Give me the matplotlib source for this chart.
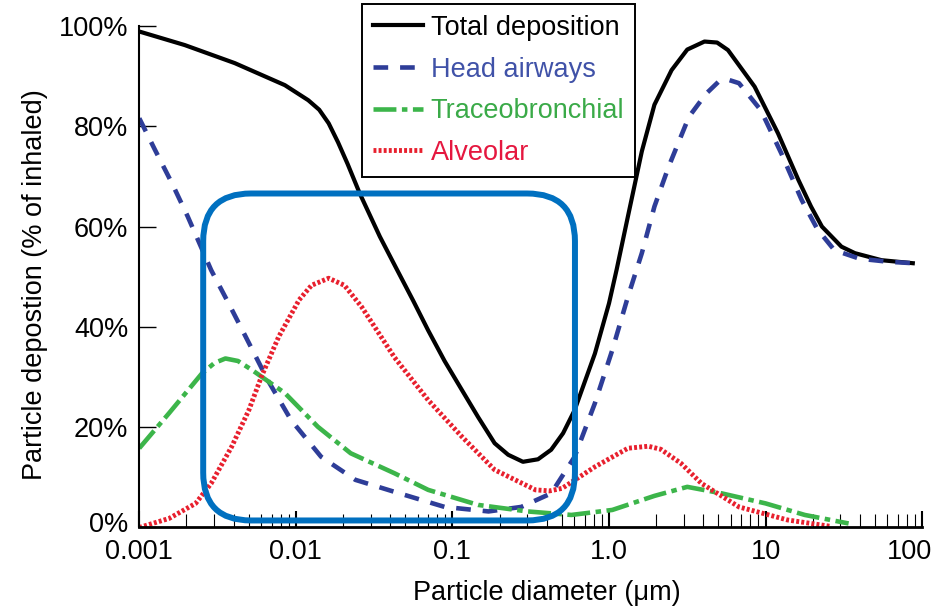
import numpy as np
import matplotlib
matplotlib.use('Agg')
import matplotlib.pyplot as plt
from matplotlib.patches import FancyBboxPatch
from matplotlib.ticker import FixedLocator, LogLocator, NullFormatter
from matplotlib.transforms import ScaledTranslation

plt.rcParams['font.family'] = ['Liberation Sans', 'DejaVu Sans']

# values (diameter in um, deposition in %)
total_d = [0.001, 0.00195, 0.00407, 0.00851, 0.0120, 0.0141, 0.0162, 0.0186, 0.0214, 0.0256,
           0.0344, 0.0441, 0.0562, 0.0700, 0.0891, 0.115, 0.146, 0.186, 0.227, 0.282,
           0.352, 0.427, 0.509, 0.603, 0.813, 1.0, 1.12, 1.32, 1.62, 1.95,
           2.51, 3.16, 4.07, 4.90, 5.75, 8.51, 12.0, 16.2, 19.5, 22.9,
           30.5, 37.2, 55.0, 87.1]
total_y = [98.9, 96.2, 92.6, 88.2, 85.2, 83.3, 80.6, 76.8, 72.5, 66.6,
           58.0, 51.5, 45.2, 39.3, 33.2, 27.4, 22.0, 16.8, 14.5, 13.1,
           13.6, 15.5, 18.8, 23.4, 34.7, 44.7, 51.5, 62.0, 75.0, 84.3,
           91.2, 95.3, 96.9, 96.7, 95.2, 87.9, 78.6, 69.3, 64.0, 60.0,
           56.0, 54.7, 53.3, 52.7]

head_d = [0.001, 0.00126, 0.00162, 0.00204, 0.00288, 0.00372, 0.00479, 0.00661, 0.00933, 0.0145,
          0.0240, 0.0427, 0.0891, 0.170, 0.275, 0.427, 0.603, 0.813, 1.05, 1.32,
          1.62, 1.95, 2.40, 3.24, 4.17, 5.01, 5.75, 6.76, 9.33, 12.6,
          17.0, 21.4, 27.5, 39.8, 60.3, 87.1]
head_y = [81.6, 75.3, 68.6, 62.0, 51.3, 44.7, 38.0, 29.4, 21.4, 14.1,
          9.5, 7.1, 4.1, 3.2, 4.1, 6.8, 14.1, 24.8, 35.4, 46.0,
          54.7, 64.0, 71.9, 81.9, 86.5, 88.9, 89.3, 88.6, 83.2, 74.6,
          65.3, 59.5, 55.3, 53.6, 53.0, 52.7]

tb_d = [0.001, 0.00155, 0.00251, 0.00302, 0.00355, 0.00427, 0.00525, 0.00851, 0.0138, 0.0224,
        0.0427, 0.0700, 0.146, 0.302, 0.575, 1.05, 1.95, 3.16, 5.25, 10.0,
        17.8, 33.9]
tb_y = [15.8, 22.8, 30.7, 32.8, 33.7, 33.2, 31.4, 26.8, 20.1, 14.8,
        10.8, 7.5, 4.5, 3.2, 2.5, 3.5, 6.3, 8.1, 6.8, 4.8,
        2.5, 0.8]

alv_d = [0.001, 0.00155, 0.00229, 0.00288, 0.00389, 0.00501, 0.00603, 0.00776, 0.0105, 0.0126,
         0.0162, 0.0204, 0.0263, 0.0427, 0.0700, 0.115, 0.186, 0.339, 0.417, 0.501,
         0.813, 1.32, 1.78, 2.14, 2.88, 3.89, 6.76, 13.8, 26.3]
alv_y = [0.0, 1.8, 4.8, 8.8, 16.1, 23.4, 30.1, 38.0, 45.4, 48.3,
         49.7, 48.3, 44.0, 33.9, 25.4, 18.1, 11.5, 7.5, 7.3, 7.8,
         12.1, 15.8, 16.2, 15.6, 12.8, 8.8, 4.1, 1.5, 0.2]

x_ticks = [0.001, 0.01, 0.1, 1.0, 10, 100]
x_labels = ['0.001', '0.01', '0.1', '1.0', '10', '100']
y_ticks = [0, 20, 40, 60, 80, 100]
y_labels = ['0%', '20%', '40%', '60%', '80%', '100%']

# highlight box (diameter range, % range)
box_d = (0.00256, 0.606)
box_y = (1.4, 66.6)

FS = 19.5

fig = plt.figure(figsize=(9.41, 6.13), dpi=100)
ax = fig.add_axes([0.148, 0.1395, 0.832, 0.8181])

l1, = ax.plot(total_d, total_y, color='black', lw=3.0, label='Total deposition')
l2, = ax.plot(head_d, head_y, color='#2E3D98', lw=3.3, linestyle=(0, (3.2, 2.6)), label='Head airways')
l3, = ax.plot(tb_d, tb_y, color='#3CB54A', lw=3.3, linestyle=(0, (5, 1.2, 1.2, 1.2)), label='Traceobronchial')
l4, = ax.plot(alv_d, alv_y, color='#E8202E', lw=3.5, linestyle=(0, (0.6, 0.45)), label='Alveolar')

ax.set_xscale('log')
ax.set_xlim(0.001, 100)
ax.set_ylim(0, 100)

ax.xaxis.set_major_locator(FixedLocator(x_ticks))
ax.set_xticklabels(x_labels)
ax.xaxis.set_minor_locator(LogLocator(base=10, subs=np.arange(2, 10)))
ax.xaxis.set_minor_formatter(NullFormatter())
ax.set_yticks(y_ticks)
ax.set_yticklabels(y_labels)

ax.tick_params(axis='x', which='major', direction='in', length=11.5, width=1.5, labelsize=FS, pad=8)
ax.tick_params(axis='x', which='minor', direction='in', length=9.5, width=0.8)
ax.tick_params(axis='y', which='major', direction='in', length=12, width=1.0, labelsize=FS, pad=8)

# last x label sits a bit left of its tick, the 0% label a bit higher, as in the reference
last = ax.get_xticklabels()[-1]
last.set_transform(last.get_transform() + ScaledTranslation(-9 / 72, 0, fig.dpi_scale_trans))
zero = ax.get_yticklabels()[0]
zero.set_transform(zero.get_transform() + ScaledTranslation(0, 4 / 72, fig.dpi_scale_trans))

for s in ['top', 'right']:
    ax.spines[s].set_visible(False)
ax.spines['left'].set_linewidth(1.5)
ax.spines['bottom'].set_linewidth(2.0)

ax.set_xlabel('Particle diameter (\u03bcm)', fontsize=FS)
ax.xaxis.set_label_coords(0.52, -0.105)
ax.set_ylabel('Particle depostion (% of inhaled)', fontsize=FS)
ax.yaxis.set_label_coords(-0.117, 0.485)

# rounded highlight box, placed in axes fraction from its data range
fx0 = (np.log10(box_d[0]) + 3) / 5
fx1 = (np.log10(box_d[1]) + 3) / 5
fy0 = box_y[0] / 100
fy1 = box_y[1] / 100
asp = (0.832 * 941) / (0.8181 * 613)
box = FancyBboxPatch((fx0, fy0), fx1 - fx0, fy1 - fy0,
                     boxstyle='round,pad=0,rounding_size=0.061',
                     mutation_aspect=asp, transform=ax.transAxes,
                     fill=False, edgecolor='#0070C0', lw=4.3, clip_on=False, zorder=5)
ax.add_patch(box)

leg = fig.legend(handles=[l1, l2, l3, l4], loc='upper left',
                 bbox_to_anchor=(361.7 / 941, 1 - 4 / 613), borderaxespad=0, fontsize=FS,
                 frameon=True, fancybox=False, framealpha=1, edgecolor='black',
                 handlelength=1.85, handletextpad=0.3, labelspacing=0.58, borderpad=0.4)
leg.get_frame().set_linewidth(1.4)
for txt, c in zip(leg.get_texts(), ['black', '#4052A8', '#3AAA48', '#E5173F']):
    txt.set_color(c)

fig.savefig('out.png', dpi=100)
